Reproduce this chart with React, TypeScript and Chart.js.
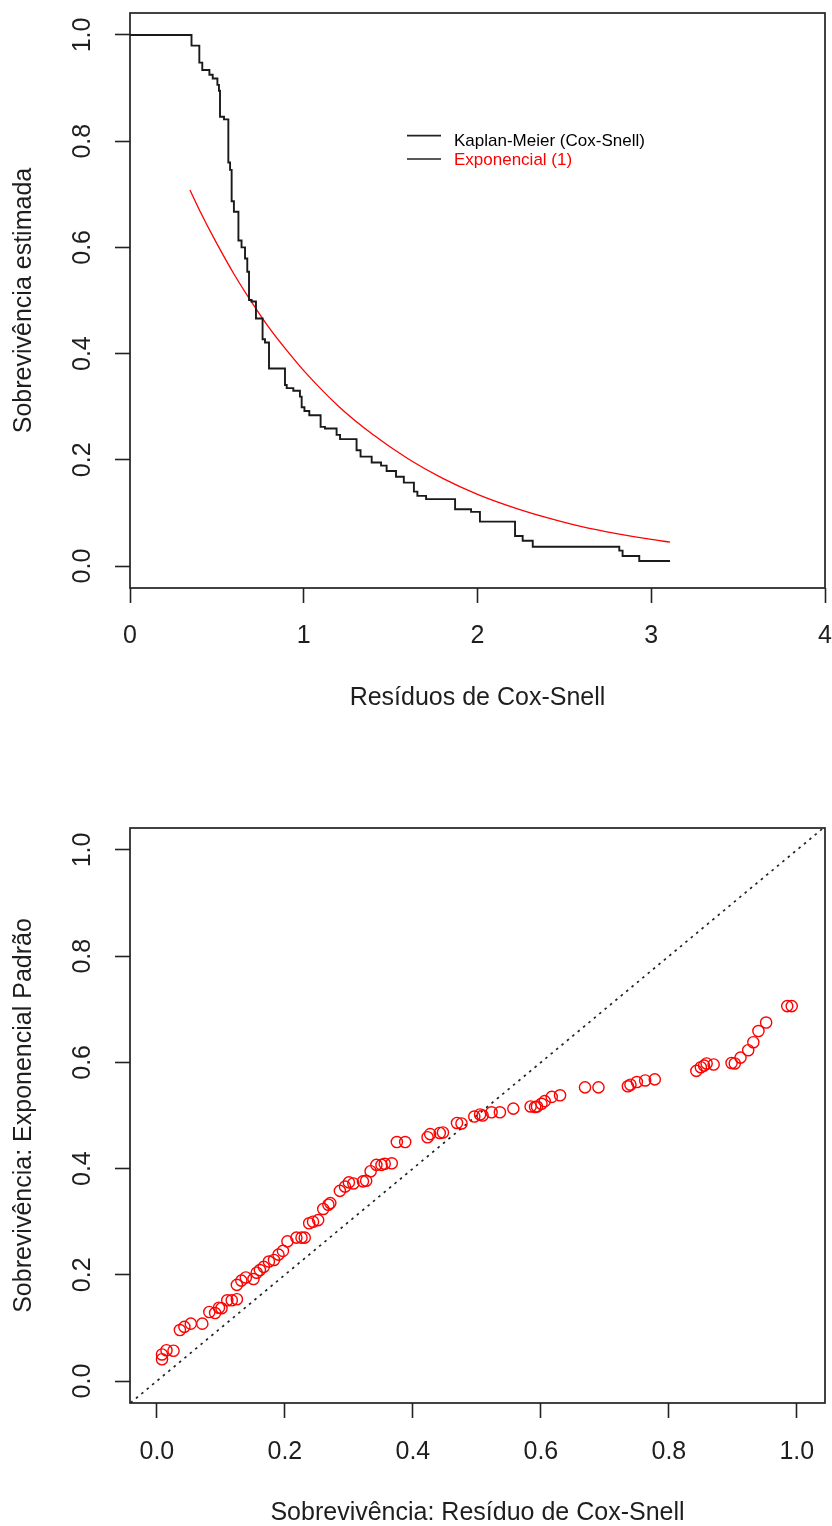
import React, { useEffect, useRef } from 'react';
import { Chart, registerables } from 'chart.js';

Chart.register(...registerables);

const FONT = "'Liberation Sans', Arial, Helvetica, sans-serif";

// ---- Top chart: Kaplan-Meier of Cox-Snell residuals vs Exponential(1) ----
const kmResidual = [
  0, 0.354, 0.399, 0.416, 0.457, 0.476, 0.503, 0.512, 0.518, 0.541, 0.566, 0.576, 0.585, 0.598,
  0.624, 0.642, 0.662, 0.675, 0.685, 0.7, 0.725, 0.763, 0.777, 0.8, 0.892, 0.902, 0.94, 0.978,
  0.988, 1.004, 1.032, 1.097, 1.122, 1.189, 1.209, 1.304, 1.327, 1.391, 1.445, 1.477, 1.531,
  1.576, 1.634, 1.654, 1.704, 1.871, 1.963, 2.014, 2.216, 2.26, 2.318, 2.816, 2.835, 2.931, 3.108,
];
const kmSurvival = [
  1.0, 0.98, 0.948, 0.934, 0.925, 0.918, 0.906, 0.895, 0.846, 0.841, 0.76, 0.746, 0.687, 0.667,
  0.613, 0.6, 0.579, 0.554, 0.501, 0.498, 0.466, 0.427, 0.421, 0.372, 0.341, 0.335, 0.33, 0.319,
  0.299, 0.292, 0.284, 0.262, 0.259, 0.247, 0.239, 0.218, 0.206, 0.195, 0.189, 0.179, 0.168,
  0.157, 0.14, 0.132, 0.126, 0.107, 0.102, 0.0835, 0.0565, 0.0477, 0.0364, 0.0289, 0.0188, 0.0094, 0.0094,
];
const expResidual = [0.345, 0.4, 0.5, 0.6, 0.7, 0.8, 0.9, 1.0, 1.2, 1.4, 1.6, 1.8, 2.0, 2.2, 2.4, 2.6, 2.8, 3.0, 3.108];
const expSurvival = [0.708, 0.67, 0.607, 0.549, 0.497, 0.449, 0.407, 0.368, 0.301, 0.247, 0.202, 0.165, 0.135, 0.111, 0.091, 0.074, 0.061, 0.05, 0.045];

const topXTicks = [0, 1, 2, 3, 4];
const topXTickLabels = ['0', '1', '2', '3', '4'];
const unitTicks = [0, 0.2, 0.4, 0.6, 0.8, 1.0];
const unitTickLabels = ['0.0', '0.2', '0.4', '0.6', '0.8', '1.0'];

const legendLabels = ['Kaplan-Meier (Cox-Snell)', 'Exponencial (1)'];
const legendTextColors = ['#000000', '#ff0000'];

// ---- Bottom chart: KM survival vs exponential survival ----
const qqKM = [
  0.008, 0.008, 0.015, 0.026, 0.036, 0.043, 0.053, 0.071, 0.082, 0.091,
  0.097, 0.101, 0.11, 0.117, 0.125, 0.125, 0.132, 0.139, 0.151, 0.156,
  0.161, 0.167, 0.175, 0.183, 0.19, 0.197, 0.204, 0.218, 0.226, 0.231,
  0.238, 0.244, 0.252, 0.26, 0.268, 0.271, 0.286, 0.294, 0.3, 0.307,
  0.322, 0.327, 0.334, 0.343, 0.351, 0.356, 0.367, 0.375, 0.388, 0.423,
  0.427, 0.442, 0.447, 0.469, 0.476, 0.496, 0.505, 0.509, 0.523, 0.536,
  0.557, 0.584, 0.591, 0.594, 0.601, 0.606, 0.617, 0.63, 0.669, 0.69,
  0.736, 0.74, 0.75, 0.763, 0.778, 0.843, 0.85, 0.855, 0.859, 0.87,
  0.898, 0.903, 0.912, 0.924, 0.932, 0.94, 0.952, 0.985, 0.992,
];
const qqExp = [
  0.041, 0.05, 0.058, 0.057, 0.096, 0.102, 0.108, 0.108, 0.13, 0.128,
  0.138, 0.137, 0.152, 0.152, 0.154, 0.181, 0.189, 0.195, 0.192, 0.204,
  0.209, 0.215, 0.225, 0.228, 0.238, 0.245, 0.263, 0.27, 0.27, 0.27,
  0.297, 0.3, 0.303, 0.324, 0.332, 0.335, 0.358, 0.366, 0.374, 0.372,
  0.376, 0.377, 0.395, 0.407, 0.407, 0.409, 0.41, 0.45, 0.45, 0.459,
  0.465, 0.467, 0.468, 0.486, 0.485, 0.498, 0.502, 0.5, 0.506, 0.506,
  0.513, 0.517, 0.516, 0.517, 0.522, 0.527, 0.535, 0.538, 0.553, 0.553,
  0.555, 0.558, 0.563, 0.566, 0.568, 0.584, 0.591, 0.594, 0.598, 0.596,
  0.599, 0.598, 0.609, 0.623, 0.638, 0.659, 0.675, 0.706, 0.706,
];
const diagonal = [-0.1, 1.1];

const TEXT = '#1e1e1e';
const TICK_SIZE = 25;
const TITLE_SIZE = 25;

const boxPlugin = {
  id: 'rbox',
  afterDatasetsDraw(chart: any) {
    const { ctx, chartArea: a } = chart;
    ctx.save();
    ctx.strokeStyle = '#222';
    ctx.lineWidth = 1.7;
    ctx.strokeRect(a.left, a.top, a.right - a.left, a.bottom - a.top);
    ctx.restore();
  },
};

const legendPlugin = {
  id: 'rlegend',
  afterDraw(chart: any) {
    const ctx = chart.ctx;
    const lineYs = [135.7, 159];
    const textYs = [141, 160];
    ctx.save();
    ctx.font = `17px ${FONT}`;
    ctx.textBaseline = 'middle';
    ctx.textAlign = 'left';
    legendLabels.forEach((t, i) => {
      ctx.strokeStyle = '#222';
      ctx.lineWidth = 1.7;
      ctx.beginPath();
      ctx.moveTo(407, lineYs[i]);
      ctx.lineTo(441, lineYs[i]);
      ctx.stroke();
      ctx.fillStyle = legendTextColors[i];
      ctx.fillText(t, 454, textYs[i]);
    });
    ctx.restore();
  },
};

function xAxis(min: number, max: number, ticks: number[], labels: string[], height: number, tickPad: number, title: string, titlePadBottom: number, titleLineHeight: number) {
  return {
    type: 'linear',
    position: 'bottom',
    min,
    max,
    afterBuildTicks: (s: any) => {
      s.ticks = ticks.map((v) => ({ value: v }));
    },
    afterFit: (s: any) => {
      s.height = height;
      s.paddingLeft = 0;
      s.paddingRight = 0;
    },
    grid: { drawOnChartArea: false, drawTicks: true, tickLength: 15, tickColor: '#222', tickWidth: 1.6 },
    border: { display: false },
    ticks: {
      autoSkip: false,
      maxRotation: 0,
      minRotation: 0,
      padding: tickPad,
      color: TEXT,
      font: { family: FONT, size: TICK_SIZE },
      callback: (_v: any, i: number) => labels[i],
    },
    title: {
      display: true,
      text: title,
      color: TEXT,
      font: { family: FONT, size: TITLE_SIZE, lineHeight: titleLineHeight },
      padding: { top: 0, bottom: titlePadBottom },
    },
  };
}

function yAxis(title: string) {
  return {
    type: 'linear',
    position: 'left',
    min: -0.0414,
    max: 1.0414,
    afterBuildTicks: (s: any) => {
      s.ticks = unitTicks.map((v) => ({ value: v }));
    },
    afterFit: (s: any) => {
      s.width = 130;
      s.paddingTop = 0;
      s.paddingBottom = 0;
    },
    grid: { drawOnChartArea: false, drawTicks: true, tickLength: 15, tickColor: '#222', tickWidth: 1.6 },
    border: { display: false },
    ticks: {
      autoSkip: false,
      minRotation: 90,
      maxRotation: 90,
      crossAlign: 'center',
      padding: 14.6,
      color: TEXT,
      font: { family: FONT, size: TICK_SIZE },
      callback: (_v: any, i: number) => unitTickLabels[i],
    },
    title: {
      display: true,
      text: title,
      color: TEXT,
      font: { family: FONT, size: TITLE_SIZE },
      padding: { top: 9, bottom: 0 },
    },
  };
}

function TopChart() {
  const ref = useRef<HTMLCanvasElement | null>(null);
  useEffect(() => {
    if (!ref.current) return;
    const chart = new Chart(ref.current, {
      type: 'line',
      data: {
        datasets: [
          {
            label: legendLabels[0],
            data: kmResidual.map((x, i) => ({ x, y: kmSurvival[i] })),
            borderColor: '#1a1a1a',
            borderWidth: 1.9,
            pointRadius: 0,
            stepped: 'before',
            fill: false,
          },
          {
            label: legendLabels[1],
            data: expResidual.map((x, i) => ({ x, y: expSurvival[i] })),
            borderColor: '#ff0000',
            borderWidth: 1.3,
            pointRadius: 0,
            cubicInterpolationMode: 'monotone',
            fill: false,
          },
        ],
      } as any,
      options: {
        responsive: false,
        animation: false,
        devicePixelRatio: 1,
        events: [],
        layout: { padding: { top: 13, right: 7, left: 0, bottom: 0 } },
        plugins: { legend: { display: false }, tooltip: { enabled: false } },
        scales: {
          x: xAxis(0, 4, topXTicks, topXTickLabels, 175, 18, 'Resíduos de Cox-Snell', 49.4, 1.2),
          y: yAxis('Sobrevivência estimada'),
        } as any,
      },
      plugins: [boxPlugin, legendPlugin],
    });
    return () => chart.destroy();
  }, []);
  return <canvas ref={ref} width={832} height={763} style={{ position: 'absolute', left: 0, top: 0, width: 832, height: 763 }} />;
}

function BottomChart() {
  const ref = useRef<HTMLCanvasElement | null>(null);
  useEffect(() => {
    if (!ref.current) return;
    const chart = new Chart(ref.current, {
      type: 'scatter',
      data: {
        datasets: [
          {
            data: qqKM.map((x, i) => ({ x, y: qqExp[i] })),
            showLine: false,
            pointStyle: 'circle',
            pointRadius: 5.6,
            borderColor: '#ff0000',
            backgroundColor: 'rgba(0,0,0,0)',
            borderWidth: 1.4,
          },
          {
            data: diagonal.map((v) => ({ x: v, y: v })),
            showLine: true,
            pointRadius: 0,
            borderColor: '#222',
            borderWidth: 1.7,
            borderDash: [2.5, 4.5],
            fill: false,
          },
        ],
      } as any,
      options: {
        responsive: false,
        animation: false,
        devicePixelRatio: 1,
        events: [],
        layout: { padding: { top: 65, right: 7, left: 0, bottom: 0 } },
        plugins: { legend: { display: false }, tooltip: { enabled: false } },
        scales: {
          x: xAxis(-0.042, 1.044, unitTicks, unitTickLabels, 123, 19, 'Sobrevivência: Resíduo de Cox-Snell', 0.5, 1),
          y: yAxis('Sobrevivência: Exponencial Padrão'),
        } as any,
      },
      plugins: [boxPlugin],
    });
    return () => chart.destroy();
  }, []);
  return <canvas ref={ref} width={832} height={763} style={{ position: 'absolute', left: 0, top: 763, width: 832, height: 763 }} />;
}

export default function App() {
  return (
    <div style={{ position: 'absolute', left: 0, top: 0, width: 832, height: 1526, background: '#ffffff', overflow: 'hidden' }}>
      <TopChart />
      <BottomChart />
    </div>
  );
}
